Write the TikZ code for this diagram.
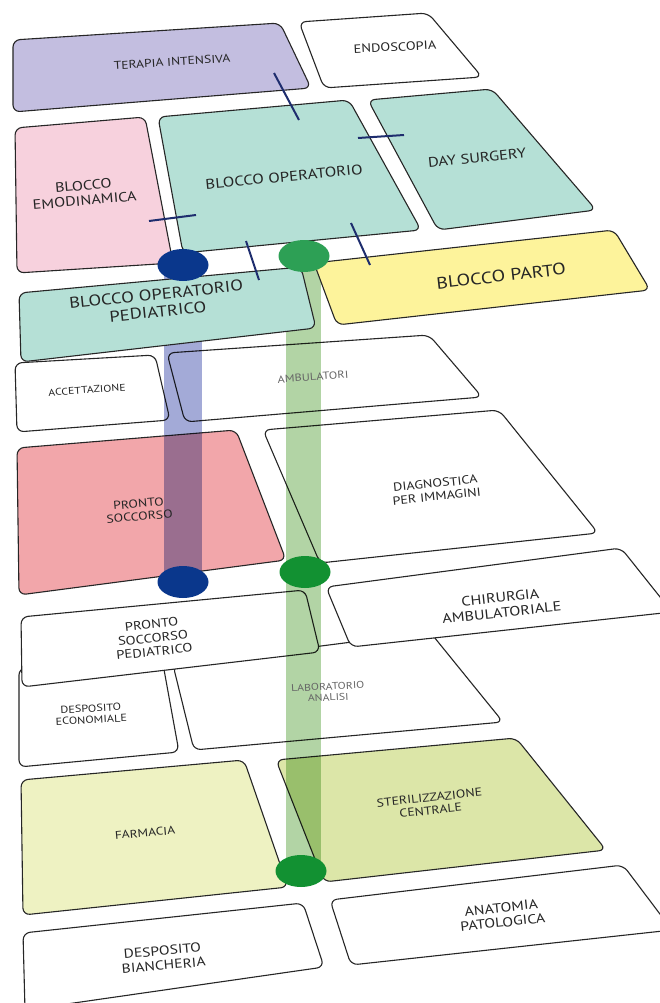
\documentclass[tikz,border=0pt]{standalone}
\usepackage{fontspec}
\setsansfont{PT Sans}
\usetikzlibrary{shapes.geometric,calc}
\definecolor{lilla}{RGB}{195,190,224}
\definecolor{rosa}{RGB}{247,209,221}
\definecolor{acqua}{RGB}{181,224,214}
\definecolor{giallo}{RGB}{253,243,155}
\definecolor{rosso}{RGB}{242,166,170}
\definecolor{crema}{RGB}{238,242,194}
\definecolor{oliva}{RGB}{220,230,168}
\definecolor{blu}{RGB}{10,55,140}
\definecolor{porta}{RGB}{30,45,110}
\definecolor{verde}{RGB}{18,145,50}
\definecolor{verdechiaro}{RGB}{45,160,85}
\definecolor{bandablu}{RGB}{163,170,215}
\definecolor{bandaverde}{RGB}{178,212,165}

\begin{document}
\begin{tikzpicture}[x=1pt, y=-1pt,
    room/.style={draw=black!85, line width=1.1pt, rounded corners=7pt, fill=white},
    lbl/.style={font=\sffamily\fontsize{#1}{1.12\dimexpr#1pt\relax}\selectfont, align=center, inner sep=0, xscale=1.2, text=black!85},
    hub/.style={ellipse, minimum width=51, minimum height=32, inner sep=0},
    door/.style={draw=porta, line width=2pt},
    band/.style={blend mode=multiply}]
    \clip (0,0) rectangle (660,1003);
    \fill[white] (0,0) rectangle (660,1003);
    \coordinate (b1) at (183,265);
    \coordinate (b2) at (183,582);
    \coordinate (g1) at (304,256);
    \coordinate (g2) at (305,572);
    \coordinate (g3) at (301,871);
    \draw[room] (23,933) -- (303,903) -- (324,967) -- (25,1010) -- cycle;
    \draw[room] (330,900) -- (623,865) -- (672,930) -- (351,965) -- cycle;
    \draw[room, fill=crema] (21,780) -- (244,760) -- (288,887) -- (23,915) -- cycle;
    \draw[room, fill=oliva] (276,760) -- (516,738) -- (606,850) -- (324,882) -- cycle;
    \draw[room] (19,668) -- (163,664) -- (179,752) -- (19,767) -- cycle;
    \draw[room] (173,665) -- (430,632) -- (503,722) -- (194,750) -- cycle;
    \draw[room] (21,617) -- (305,590) -- (320,652) -- (22,687) -- cycle;
    \draw[room] (326,587) -- (621,548) -- (672,612) -- (351,647) -- cycle;
    \draw[room, fill=rosso] (17,448) -- (236,430) -- (286,560) -- (19,595) -- cycle;
    \draw[room] (263,430) -- (499,410) -- (598,533) -- (320,563) -- cycle;
    \draw[room] (15,363) -- (155,355) -- (170,420) -- (17,432) -- cycle;
    \draw[room] (167,353) -- (429,335) -- (482,397) -- (185,422) -- cycle;
    \fill[band, bandablu] ($(b1)+(-19,0)$) rectangle ($(b2)+(19,0)$);
    \fill[band, bandaverde] ($(g1)+(-18,0)$) rectangle ($(g3)+(20,0)$);
    \draw[room, fill=acqua] (19,293) -- (301,267) -- (316,328) -- (21,362) -- cycle;
    \draw[room, fill=giallo] (314,263) -- (614,230) -- (650,290) -- (337,325) -- cycle;
    \draw[room, fill=rosa] (15,128) -- (145,117) -- (173,263) -- (17,273) -- cycle;
    \draw[room, fill=acqua] (158,117) -- (349,100) -- (421,230) -- (183,253) -- cycle;
    \draw[room, fill=acqua] (368,100) -- (492,89) -- (596,210) -- (438,230) -- cycle;
    \draw[room, fill=lilla] (13,40) -- (280,23) -- (311,88) -- (13,112) -- cycle;
    \draw[room] (299,22) -- (428,13) -- (482,77) -- (324,88) -- cycle;
    \draw[door] (274,73) -- (299,120);
    \draw[door] (358,138) -- (404,135);
    \draw[door] (149,221) -- (196,215);
    \draw[door] (246,241) -- (259,280);
    \draw[door] (351,223) -- (370,265);
    \node[hub, fill=blu] (b1dot) at (b1) {};
    \node[hub, fill=blu] (b2dot) at (b2) {};
    \node[hub, fill=verdechiaro] (g1dot) at (g1) {};
    \node[hub, fill=verde] (g2dot) at (g2) {};
    \node[hub, fill=verde] (g3dot) at (g3) {};
    \node[rotate=3.5, lbl=11.3] (terapia) at (172,62) {TERAPIA INTENSIVA};
    \node[rotate=3, lbl=12] (endoscopia) at (395,47) {ENDOSCOPIA};
    \node[rotate=5, lbl=13.5] (emodinamica) at (84,193) {BLOCCO\\EMODINAMICA};
    \node[rotate=5.5, lbl=14] (operatorio) at (284,177) {BLOCCO OPERATORIO};
    \node[rotate=6, lbl=13.8] (daysurgery) at (477,158) {DAY SURGERY};
    \node[rotate=6.5, lbl=16.5] (parto) at (501,276) {BLOCCO PARTO};
    \node[rotate=6, lbl=15.5] (pediatrico) at (157,303) {BLOCCO OPERATORIO\\PEDIATRICO};
    \node[rotate=4, lbl=9.8] (accettazione) at (87,390) {ACCETTAZIONE};
    \node[rotate=4, lbl=10.3, text=black!60] (ambulatori) at (313,377) {AMBULATORI};
    \node[rotate=5, lbl=11.5] (pronto) at (139,510) {PRONTO\\SOCCORSO};
    \node[rotate=6, lbl=11.8] (diagnostica) at (436,490) {DIAGNOSTICA\\PER IMMAGINI};
    \node[rotate=6, lbl=13.5] (chirurgia) at (501,605) {CHIRURGIA\\AMBULATORIALE};
    \node[rotate=6, lbl=12.2] (prontoped) at (153,638) {PRONTO\\SOCCORSO\\PEDIATRICO};
    \node[rotate=3, lbl=10.2] (economiale) at (91,714) {DESPOSITO\\ECONOMIALE};
    \node[rotate=3, lbl=9.8, text=black!60] (laboratorio) at (328,692) {LABORATORIO\\ANALISI};
    \node[rotate=5, lbl=11.2] (farmacia) at (145,833) {FARMACIA};
    \node[rotate=6, lbl=11.5] (sterilizzazione) at (430,804) {STERILIZZAZIONE\\CENTRALE};
    \node[rotate=5, lbl=13] (biancheria) at (163,958) {DESPOSITO\\BIANCHERIA};
    \node[rotate=6, lbl=13.2] (anatomia) at (502,915) {ANATOMIA\\PATOLOGICA};
\end{tikzpicture}
\end{document}
